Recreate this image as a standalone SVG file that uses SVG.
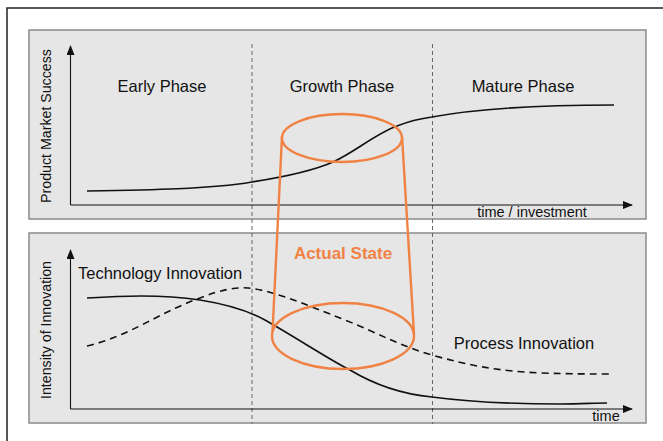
<svg xmlns="http://www.w3.org/2000/svg" width="663" height="441" viewBox="0 0 663 441">
<style>
.panel{fill:#e6e6e6;stroke:#8a8a8a;stroke-width:1.5}
.axis{fill:none;stroke:#111;stroke-width:1.1}
.vdash{fill:none;stroke:#666;stroke-width:1;stroke-dasharray:4 3}
.curve{fill:none;stroke:#111;stroke-width:1.6}
.dcurve{fill:none;stroke:#111;stroke-width:1.6;stroke-dasharray:7 5}
.org{fill:none;stroke:#f08244;stroke-width:2.4}
.lbl{font-family:"Liberation Sans",Arial,sans-serif;fill:#111}
.big{font-size:16.5px}
.sm{font-size:14.5px}
.rot{font-size:14.2px}
.act{font-family:"Liberation Sans",Arial,sans-serif;font-weight:bold;font-size:17px;fill:#f08244}
</style>
<defs>
<marker id="ah" markerWidth="10" markerHeight="8" refX="9" refY="4" orient="auto" markerUnits="userSpaceOnUse">
<path d="M0,0 L10,4 L0,8 Z" fill="#111"/>
</marker>
</defs>
<rect width="663" height="441" fill="#fff"/>
<path d="M7,441 V8 H663" fill="none" stroke="#222" stroke-width="1.5"/>

<g id="panel-top">
<rect class="panel" x="29" y="30" width="617" height="189"/>
<text class="lbl big" x="162" y="92" text-anchor="middle">Early Phase</text>
<text class="lbl big" x="342" y="92" text-anchor="middle">Growth Phase</text>
<text class="lbl big" x="523" y="92" text-anchor="middle">Mature Phase</text>
<text class="lbl sm" x="532" y="217" text-anchor="middle">time / investment</text>
<text class="lbl rot" transform="translate(51,126) rotate(-90)" text-anchor="middle">Product Market Success</text>
</g>

<g id="panel-bottom">
<rect class="panel" x="29" y="233" width="617" height="190"/>
<text class="lbl big" x="78" y="279">Technology Innovation</text>
<text class="lbl big" x="524" y="349" text-anchor="middle">Process Innovation</text>
<text class="lbl sm" x="606" y="421" text-anchor="middle">time</text>
<text class="lbl rot" transform="translate(51,330) rotate(-90)" text-anchor="middle">Intensity of Innovation</text>
</g>

<g id="connectors">
<line class="vdash" x1="252" y1="44" x2="252" y2="424"/>
<line class="vdash" x1="432.5" y1="44" x2="432.5" y2="424"/>
<line class="axis" x1="70.5" y1="205" x2="70.5" y2="46" marker-end="url(#ah)"/>
<line class="axis" x1="70.5" y1="205" x2="632" y2="205" marker-end="url(#ah)"/>
<line class="axis" x1="70.5" y1="409" x2="70.5" y2="250" marker-end="url(#ah)"/>
<line class="axis" x1="70.5" y1="409" x2="632" y2="409" marker-end="url(#ah)"/>
</g>

<g id="curve-market">
<path class="curve" d="M87,191 C150,190 210,189 252,182 C290,176 315,170 333,162 C355,152 375,134 397,126 C415,119 425,118 432,117 C480,108 540,105 614,105"/>
</g>

<g id="curve-technology">
<path class="curve" d="M87,298 C120,296 160,294 200,300 C225,304 245,309 265,320 C300,340 330,360 350,370 C375,385 400,394 432,397 C470,402 520,404 560,404 C580,404 595,403 607,403"/>
</g>

<g id="curve-process">
<path class="dcurve" d="M87,346 C130,336 160,312 200,298 C220,290 235,287 248,288 C270,290 300,302 345,320 C380,334 400,346 432,355 C470,366 500,371 540,373 C570,374 595,374 613,374"/>
</g>

<g id="actual-state">
<ellipse class="org" cx="342" cy="138" rx="60" ry="24"/>
<line class="org" x1="282" y1="136" x2="272.5" y2="332"/>
<line class="org" x1="402" y1="136" x2="414" y2="334"/>
<ellipse class="org" cx="343" cy="336" rx="71" ry="33"/>
<text class="act" x="343" y="259" text-anchor="middle">Actual State</text>
</g>
</svg>
